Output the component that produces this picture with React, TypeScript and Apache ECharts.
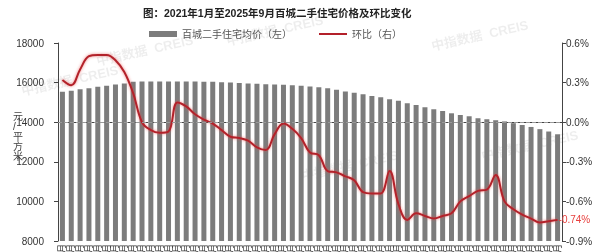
import React, { useEffect, useRef } from "react";
import * as echarts from "echarts";

const TITLE = "图：2021年1月至2025年9月百城二手住宅价格及环比变化";
const BAR_NAME = "百城二手住宅均价（左）";
const LINE_NAME = "环比（右）";

const months: string[] = [];
for (let y = 2021; y <= 2025; y++) {
  for (let m = 1; m <= 12; m++) {
    if (y === 2025 && m > 9) break;
    months.push(`${y}年${m}月`);
  }
}

const priceValues = [
  15540, 15590, 15660, 15710, 15790, 15840, 15910, 15960, 16040, 16050,
  16050, 16050, 16050, 16050, 16050, 16050, 16045, 16040, 16020, 16000,
  15980, 15960, 15940, 15920, 15910, 15890, 15870, 15840, 15800, 15760,
  15710, 15640, 15550, 15490, 15410, 15320, 15260, 15160, 15085, 14955,
  14870, 14750, 14650, 14565, 14450, 14365, 14300, 14200, 14150, 14100,
  14040, 13950, 13860, 13760, 13650, 13530, 13390,
];

const momValues = [
  0.32, 0.28, 0.4, 0.5, 0.51, 0.51, 0.47, 0.38, 0.22, 0.0,
  -0.06, -0.08, -0.07, 0.15, 0.12, 0.06, 0.02, -0.01, -0.06, -0.11,
  -0.12, -0.14, -0.19, -0.21, -0.09, -0.01, -0.05, -0.12, -0.23, -0.25,
  -0.37, -0.38, -0.41, -0.44, -0.53, -0.54, -0.54, -0.37, -0.62, -0.74,
  -0.69, -0.71, -0.73, -0.71, -0.69, -0.6, -0.56, -0.52, -0.51, -0.4,
  -0.6, -0.66, -0.7, -0.73, -0.76, -0.75, -0.74,
];

const leftTicks = { min: 8000, max: 18000, interval: 2000 };
const rightTicks = { min: -0.9, max: 0.6, interval: 0.3 };

const FONT = "'Liberation Sans', 'Noto Sans CJK SC', sans-serif";

export default function App() {
  const ref = useRef<HTMLDivElement>(null);
  useEffect(() => {
    if (!ref.current) return;
    const chart = echarts.init(ref.current, undefined, { renderer: "svg" });
    const wm = (x: number, y: number) => ({
      type: "text",
      x,
      y,
      rotation: 0.22,
      silent: true,
      z: 0,
      style: {
        text: "中指数据  CREIS",
        fill: "rgba(0,0,0,0.07)",
        font: `bold 13px ${FONT}`,
      },
    });
    chart.setOption({
      animation: false,
      textStyle: { fontFamily: FONT },
      title: {
        text: TITLE,
        left: 138,
        top: 3,
        textStyle: { fontSize: 10.5, fontWeight: "bold", color: "#222", fontFamily: FONT },
      },
      legend: {
        left: 144,
        top: 24,
        itemGap: 26,
        itemWidth: 28,
        itemHeight: 6,
        textStyle: { fontSize: 10, color: "#555", fontFamily: FONT },
        data: [
          { name: BAR_NAME, icon: "rect" },
          { name: LINE_NAME, itemStyle: { opacity: 0 } },
        ],
      },
      graphic: [
        wm(95, 55),
        wm(225, 35),
        wm(430, 40),
        wm(20, 85),
        wm(300, 170),
        wm(480, 150),
        {
          type: "text",
          left: 13,
          top: 111,
          style: {
            text: "元\n/\n平\n方\n米",
            fill: "#444",
            font: `10px ${FONT}`,
            lineHeight: 10,
          },
        },
      ],
      grid: { left: 58, right: 44, top: 43, bottom: 11, outerBoundsMode: "none" },
      xAxis: {
        type: "category",
        data: months,
        axisLine: { lineStyle: { color: "#444" } },
        axisTick: { length: 4, lineStyle: { color: "#444" } },
        axisLabel: { rotate: 90, fontSize: 9, color: "#333", margin: 3, interval: 0 },
      },
      yAxis: [
        {
          type: "value",
          ...leftTicks,
          axisLine: { show: true, lineStyle: { color: "#444" } },
          axisTick: { show: true, length: 4, lineStyle: { color: "#444" } },
          axisLabel: {
            fontSize: 10,
            color: "#333",
            margin: 14,
            formatter: (v: number) => String(v),
          },
          splitLine: { show: false },
        },
        {
          type: "value",
          ...rightTicks,
          axisLine: { show: true, lineStyle: { color: "#444" } },
          axisTick: { show: true, length: 4, lineStyle: { color: "#444" } },
          axisLabel: {
            fontSize: 10,
            color: "#333",
            margin: 4,
            formatter: (v: number) => `${v.toFixed(1)}%`,
          },
          splitLine: { show: false },
        },
      ],
      series: [
        {
          name: BAR_NAME,
          type: "bar",
          data: priceValues,
          barWidth: 5,
          itemStyle: { color: "#7c7c7c" },
          z: 2,
        },
        {
          name: LINE_NAME,
          type: "line",
          yAxisIndex: 1,
          data: momValues,
          smooth: 0.4,
          symbol: "none",
          z: 4,
          lineStyle: {
            color: "#b3202a",
            width: 2,
            shadowBlur: 3,
            shadowColor: "rgba(230,70,70,0.7)",
          },
          itemStyle: { color: "#b3202a" },
          endLabel: {
            show: true,
            distance: 1,
            color: "#e8413f",
            fontSize: 10,
            formatter: (p: any) => `${Number(p.value).toFixed(2)}%`,
          },
          markLine: {
            silent: true,
            symbol: "none",
            label: { show: false },
            lineStyle: { type: "dashed", color: "#999", width: 1 },
            data: [{ yAxis: 0 }],
          },
        },
      ],
    });
    return () => chart.dispose();
  }, []);
  return (
    <div
      ref={ref}
      style={{ position: "fixed", left: 0, top: 0, width: 606, height: 252 }}
    />
  );
}
